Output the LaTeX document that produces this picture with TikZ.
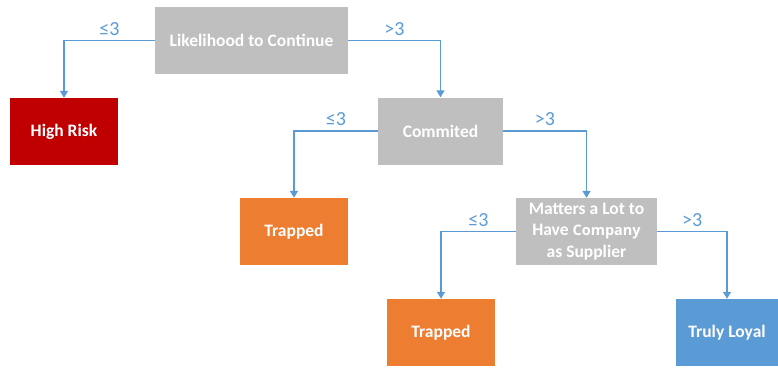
\documentclass[tikz,border=0pt]{standalone}
\usepackage{fontspec}
\setmainfont{Carlito}
\newfontfamily\heavyfont{Open Sans}
\usetikzlibrary{arrows.meta}
\definecolor{qgray}{HTML}{BFBFBF}
\definecolor{lred}{HTML}{C00000}
\definecolor{lorange}{HTML}{ED7D31}
\definecolor{lblue}{HTML}{5B9BD5}

\begin{document}
\begin{tikzpicture}[x=1pt,y=-1pt,
	quest/.style={fill=qgray,text=white,font=\fontsize{17.5}{21.5}\selectfont\bfseries,
		minimum height=67pt,align=center,inner sep=0pt},
	leaf/.style={text=white,font=\fontsize{17.5}{21.5}\selectfont\bfseries,
		minimum height=67pt,align=center,inner sep=0pt},
	link/.style={draw=lblue,line width=1.4pt,-{Triangle[width=8pt,length=7pt]}},
	cut/.style={text=lblue,font=\fontsize{20}{22}\selectfont,above=1pt}]
		\useasboundingbox (0,0) rectangle (778,367);
		%Depth 0
		\node[quest,minimum width=193pt] (lik) at (251.5,40.5) {Likelihood to Continue};
		%Depth 1
		\node[leaf,fill=lred,minimum width=108pt] (risk) at (64,131.5) {High Risk};
		\node[quest,minimum width=125pt] (com) at (440.5,131) {Commited};
		\draw[link] (lik.west) -| node[cut,pos=0.25] {≤3} (risk.north);
		\draw[link] (lik.east) -| node[cut,pos=0.25] {>3} (com.north);
		%Depth 2
		\node[leaf,fill=lorange,minimum width=108pt] (trap1) at (294,231.5) {Trapped};
		\node[quest,minimum width=141pt] (mat) at (586.5,231.5)
			{Matters a Lot to\\Have {\heavyfont\bfseries\fontsize{14.5}{21.5}\selectfont Company}\\as Supplier};
		\draw[link] (com.west) -| node[cut,pos=0.25] {≤3} (trap1.north);
		\draw[link] (com.east) -| node[cut,pos=0.25] {>3} (mat.north);
		%Depth 3
		\node[leaf,fill=lorange,minimum width=108pt] (trap2) at (441,332.5) {Trapped};
		\node[leaf,fill=lblue,minimum width=102pt] (loyal) at (727,332.5) {Truly Loyal};
		\draw[link] (mat.west) -| node[cut,pos=0.25] {≤3} (trap2.north);
		\draw[link] (mat.east) -| node[cut,pos=0.25] {>3} (loyal.north);
\end{tikzpicture}
\end{document}
